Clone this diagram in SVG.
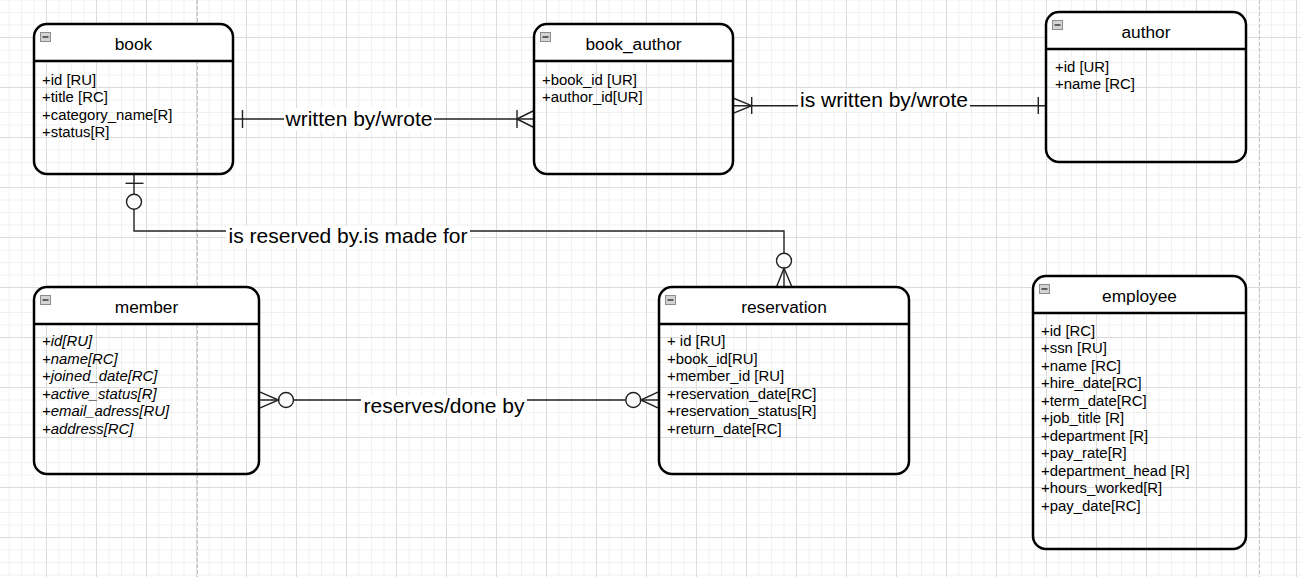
<svg xmlns="http://www.w3.org/2000/svg" width="1301" height="577" viewBox="0 0 1301 577">
<defs>
<pattern id="grid" patternUnits="userSpaceOnUse" x="46" y="37" width="50" height="50">
<path d="M13 0V50M25.5 0V50M38 0V50M0 13H50M0 25.5H50M0 38H50" stroke="#f1f1f1" stroke-width="1" fill="none"/>
<path d="M0.5 0V50M0 0.5H50" stroke="#dcdcdc" stroke-width="1" fill="none"/>
</pattern>
<g id="icon">
<rect x="0.5" y="0.5" width="10" height="9" fill="#d4d4d4" stroke="#8c8c8c" stroke-width="1"/>
<rect x="2.5" y="4.2" width="6" height="1.6" fill="#444"/>
</g>
</defs>
<style>
.hdr{fill:#fff;stroke:none}
.box{fill:none;stroke:#000;stroke-width:2.5}
.sep{stroke:#000;stroke-width:2.5}
.title{font-family:"Liberation Sans",Arial,sans-serif;font-size:17.3px;text-anchor:middle;fill:#000}
.attr{font-family:"Liberation Sans",Arial,sans-serif;font-size:14.9px;fill:#000}
.it{font-style:italic}
.ln{fill:none;stroke:#222;stroke-width:1.4}
.lbl{font-family:"Liberation Sans",Arial,sans-serif;font-size:21px;text-anchor:middle;fill:#000}
.lblbg{fill:#fff}
.page{stroke:#c4c4c4;stroke-width:1;stroke-dasharray:4 2}
</style>
<rect width="1301" height="577" fill="#fff"/>
<rect width="1301" height="577" fill="url(#grid)"/>
<line class="page" x1="197.5" y1="0" x2="197.5" y2="577"/>
<line class="page" x1="1259.5" y1="0" x2="1259.5" y2="577"/>

<g id="connectors">
<!-- book - book_author -->
<g id="c1">
<path class="ln" d="M233 119H534"/>
<path class="ln" d="M242.5 110V128"/>
<path class="ln" d="M517 110V128M517 119L534 110.5M517 119L534 127.5"/>
<rect class="lblbg" x="284" y="108" width="150" height="23"/>
<text class="lbl" x="359" y="125.7">written by/wrote</text>
</g>
<!-- book_author - author -->
<g id="c2">
<path class="ln" d="M733 105.7H1046"/>
<path class="ln" d="M733 98L751.7 105.7L733 113.4"/>
<path class="ln" d="M751.7 97V114"/>
<path class="ln" d="M1038.3 97V114"/>
<rect class="lblbg" x="798" y="89" width="172" height="23"/>
<text class="lbl" x="884" y="107">is written by/wrote</text>
</g>
<!-- book - reservation -->
<g id="c3">
<path class="ln" d="M134 174V194.2M134 209.2V231H784V253.2M784 268.2V287"/>
<path class="ln" d="M125.5 183.3H143.5"/>
<circle class="ln" cx="134" cy="201.7" r="7.5"/>
<circle class="ln" cx="784" cy="260.7" r="7.5"/>
<path class="ln" d="M776.5 287L784 268.2L792 287"/>
<rect class="lblbg" x="226" y="226" width="244" height="22"/>
<text class="lbl" x="348" y="243">is reserved by.is made for</text>
</g>
<!-- member - reservation -->
<g id="c4">
<path class="ln" d="M259 400H278.5M293.5 400H625.8M640.8 400H659"/>
<path class="ln" d="M259 391.7L278.5 400L259 408.3"/>
<circle class="ln" cx="286" cy="400" r="7.5"/>
<circle class="ln" cx="633.3" cy="400" r="7.5"/>
<path class="ln" d="M659 391.7L640.8 400L659 408.3"/>
<rect class="lblbg" x="361" y="396" width="166" height="22"/>
<text class="lbl" x="444" y="413">reserves/done by</text>
</g>
</g>

<g id="book">
<path class="hdr" d="M34 61V37A13 13 0 0 1 47 24H220A13 13 0 0 1 233 37V61Z"/>
<rect class="box" x="34" y="24" width="199" height="150" rx="13"/>
<line class="sep" x1="34" y1="61" x2="233" y2="61"/>
<use href="#icon" x="40" y="32"/>
<text class="title" x="133.5" y="50">book</text>
<text class="attr" x="42" y="84.5">+id [RU]</text>
<text class="attr" x="42" y="102">+title [RC]</text>
<text class="attr" x="42" y="119.5">+category_name[R]</text>
<text class="attr" x="42" y="137">+status[R]</text>
</g>

<g id="book_author">
<path class="hdr" d="M534 61V37A13 13 0 0 1 547 24H720A13 13 0 0 1 733 37V61Z"/>
<rect class="box" x="534" y="24" width="199" height="150" rx="13"/>
<line class="sep" x1="534" y1="61" x2="733" y2="61"/>
<use href="#icon" x="540" y="32"/>
<text class="title" x="633.5" y="50">book_author</text>
<text class="attr" x="542" y="84.5">+book_id [UR]</text>
<text class="attr" x="542" y="102">+author_id[UR]</text>
</g>

<g id="author">
<path class="hdr" d="M1046 49V25A13 13 0 0 1 1059 12H1233A13 13 0 0 1 1246 25V49Z"/>
<rect class="box" x="1046" y="12" width="200" height="150" rx="13"/>
<line class="sep" x1="1046" y1="49" x2="1246" y2="49"/>
<use href="#icon" x="1052" y="20"/>
<text class="title" x="1146" y="38">author</text>
<text class="attr" x="1055" y="71.5">+id [UR]</text>
<text class="attr" x="1055" y="89">+name [RC]</text>
</g>

<g id="member">
<path class="hdr" d="M34 324V300A13 13 0 0 1 47 287H246A13 13 0 0 1 259 300V324Z"/>
<rect class="box" x="34" y="287" width="225" height="187" rx="13"/>
<line class="sep" x1="34" y1="324" x2="259" y2="324"/>
<use href="#icon" x="40" y="295"/>
<text class="title" x="146.5" y="313">member</text>
<text class="attr it" x="42" y="346">+id[RU]</text>
<text class="attr it" x="42" y="363.5">+name[RC]</text>
<text class="attr it" x="42" y="381">+joined_date[RC]</text>
<text class="attr it" x="42" y="398.5">+active_status[R]</text>
<text class="attr it" x="42" y="416">+email_adress[RU]</text>
<text class="attr it" x="42" y="433.5">+address[RC]</text>
</g>

<g id="reservation">
<path class="hdr" d="M659 324V300A13 13 0 0 1 672 287H896A13 13 0 0 1 909 300V324Z"/>
<rect class="box" x="659" y="287" width="250" height="187" rx="13"/>
<line class="sep" x1="659" y1="324" x2="909" y2="324"/>
<use href="#icon" x="665" y="295"/>
<text class="title" x="784" y="313">reservation</text>
<text class="attr" x="667" y="346">+ id [RU]</text>
<text class="attr" x="667" y="363.5">+book_id[RU]</text>
<text class="attr" x="667" y="381">+member_id [RU]</text>
<text class="attr" x="667" y="398.5">+reservation_date[RC]</text>
<text class="attr" x="667" y="416">+reservation_status[R]</text>
<text class="attr" x="667" y="433.5">+return_date[RC]</text>
</g>

<g id="employee">
<path class="hdr" d="M1033 313V289A13 13 0 0 1 1046 276H1233A13 13 0 0 1 1246 289V313Z"/>
<rect class="box" x="1033" y="276" width="213" height="273" rx="13"/>
<line class="sep" x1="1033" y1="313" x2="1246" y2="313"/>
<use href="#icon" x="1039" y="284"/>
<text class="title" x="1139.5" y="302">employee</text>
<text class="attr" x="1041" y="335.5">+id [RC]</text>
<text class="attr" x="1041" y="353">+ssn [RU]</text>
<text class="attr" x="1041" y="370.5">+name [RC]</text>
<text class="attr" x="1041" y="388">+hire_date[RC]</text>
<text class="attr" x="1041" y="405.5">+term_date[RC]</text>
<text class="attr" x="1041" y="423">+job_title [R]</text>
<text class="attr" x="1041" y="440.5">+department [R]</text>
<text class="attr" x="1041" y="458">+pay_rate[R]</text>
<text class="attr" x="1041" y="475.5">+department_head [R]</text>
<text class="attr" x="1041" y="493">+hours_worked[R]</text>
<text class="attr" x="1041" y="510.5">+pay_date[RC]</text>
</g>
</svg>
